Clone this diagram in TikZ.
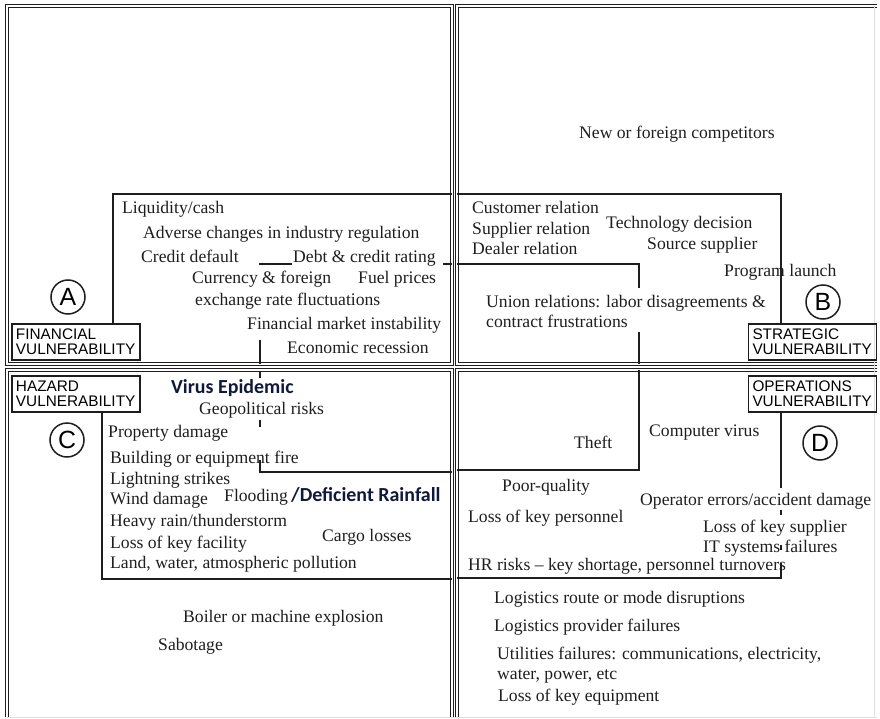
\documentclass[tikz,border=0pt]{standalone}
\usepackage{fontspec}
\setmainfont{Liberation Serif}
\setsansfont{Liberation Sans}
\newfontfamily\calibri{Carlito}
\usepackage{xcolor}
\usepackage{tikz}

\definecolor{navy}{RGB}{15,25,60}
\definecolor{ink}{RGB}{30,30,30}

\tikzset{
  quad/.style={draw=ink, double, double distance=1.2bp, line width=1bp},
  zone/.style={draw=ink, line width=1.3bp},
  risk/.style={anchor=base west, inner sep=0pt, text=ink, font=\fontsize{17.7}{20}\selectfont},
  hot/.style={anchor=base west, inner sep=0pt, text=navy, font=\calibri\bfseries\fontsize{20}{22}\selectfont},
  tag/.style={draw=ink, line width=1.3bp, minimum width=128bp, minimum height=36bp, text width=120bp, align=left, inner sep=2bp, font=\sffamily\fontsize{15.4}{15}\selectfont},
  letter/.style={draw=ink, circle, line width=1.5bp, minimum size=34bp, inner sep=0pt, font=\sffamily\fontsize{25}{25}\selectfont}
}

\begin{document}
\begin{tikzpicture}[x=1bp, y=-1bp]
\useasboundingbox (0,0) rectangle (880,719);

\draw[quad] (7,6) rectangle (452,364);
\draw[quad] (877,6) -- (457,6) -- (457,364) -- (877,364);
\draw[quad] (452,717) -- (452,370) -- (7,370) -- (7,717);
\draw[quad] (877,370) -- (457,370) -- (457,717);
\draw[black!12] (874,6) -- (874,717);
\draw[black!12] (7,717) -- (877,717);

\node[tag] at (76,342) (fin) {FINANCIAL\\VULNERABILITY};
\node[tag] at (812.5,342) (strat) {STRATEGIC\\VULNERABILITY};
\node[tag] at (76,394) (haz) {HAZARD\\VULNERABILITY};
\node[tag] at (812.5,394) (ops) {OPERATIONS\\VULNERABILITY};

\node[letter] at (68,297) (A) {A};
\node[letter] at (823,302) (B) {B};
\node[letter] at (67,440) (C) {C};
\node[letter] at (820,443) (D) {D};

\draw[zone] (452,194) -- (113,194) -- (113,0 |- fin.north);
\draw[zone] (259,264) -- (292,264);
\draw[zone] (443,264) -- (452,264);
\draw[zone] (260,340) -- (260,364);

\draw[zone] (457,194) -- (781,194) -- (781,0 |- strat.north);
\draw[zone] (457,264) -- (639,264) -- (639,288);
\draw[zone] (639,332) -- (639,364);

\draw[zone] (260,372) -- (260,378);
\draw[zone] (260,420) -- (260,427);
\draw[zone] (260,460) -- (260,472) -- (452,472);
\draw[zone] (102,0 |- haz.south) -- (102,579) -- (452,579);

\draw[zone] (639,370) -- (639,470) -- (457,470);
\draw[zone] (781,0 |- ops.south) -- (781,488);
\draw[zone] (781,510) -- (781,515);
\draw[zone] (781,545) -- (781,550);
\draw[zone] (781,563) -- (781,578) -- (457,578);

\node[risk] at (122,213) (liq) {Liquidity/cash};
\node[risk] at (143,238) (reg) {Adverse changes in industry regulation};
\node[risk] at (141,262) (cred) {Credit default};
\node[risk] at (293,262) (debt) {Debt \& credit rating};
\node[risk] at (192,283) (cur) {Currency \& foreign};
\node[risk] at (358,283) (fuel) {Fuel prices};
\node[risk] at (195,305) (fx) {exchange rate fluctuations};
\node[risk] at (247,329) (mkt) {Financial market instability};
\node[risk] at (287,353) (rec) {Economic recession};

\node[risk] at (579,139) (comp) {New or foreign competitors};
\node[risk] at (472,213) (cust) {Customer relation};
\node[risk] at (472,234) (supp) {Supplier relation};
\node[risk] at (472,254) (deal) {Dealer relation};
\node[risk] at (606,228) (tech) {Technology decision};
\node[risk] at (647,249) (src) {Source supplier};
\node[risk] at (724,276) (prog) {Program launch};
\node[risk] at (486,307) (union) {Union relations: labor disagreements \&};
\node[risk] at (486,327) (contr) {contract frustrations};

\node[hot] at (171,393) (virus) {Virus Epidemic};
\node[risk] at (199,414) (geo) {Geopolitical risks};
\node[risk] at (108,437) (prop) {Property damage};
\node[risk] at (110,463) (fire) {Building or equipment fire};
\node[risk] at (110,484) (light) {Lightning strikes};
\node[risk] at (110,504) (wind) {Wind damage};
\node[risk] at (224,501) (flood) {Flooding};
\node[hot] at (291,501) (rain) {/Deficient Rainfall};
\node[risk] at (110,526) (storm) {Heavy rain/thunderstorm};
\node[risk] at (322,541) (cargo) {Cargo losses};
\node[risk] at (110,548) (fac) {Loss of key facility};
\node[risk] at (110,568) (poll) {Land, water, atmospheric pollution};
\node[risk] at (183,622) (boil) {Boiler or machine explosion};
\node[risk] at (158,650) (sab) {Sabotage};

\node[risk] at (574,448) (theft) {Theft};
\node[risk] at (649,436) (cvir) {Computer virus};
\node[risk] at (502,491) (poor) {Poor-quality};
\node[risk] at (640,505) (oper) {Operator errors/accident damage};
\node[risk] at (468,522) (pers) {Loss of key personnel};
\node[risk] at (703,532) (ksup) {Loss of key supplier};
\node[risk] at (703,552) (it) {IT systems failures};
\node[risk] at (468,570) (hr) {HR risks – key shortage, personnel turnovers};
\node[risk] at (494,603) (route) {Logistics route or mode disruptions};
\node[risk] at (494,631) (prov) {Logistics provider failures};
\node[risk] at (497,659) (util) {Utilities failures: communications, electricity,};
\node[risk] at (497,679) (water) {water, power, etc};
\node[risk] at (498,701) (equip) {Loss of key equipment};
\end{tikzpicture}
\end{document}
